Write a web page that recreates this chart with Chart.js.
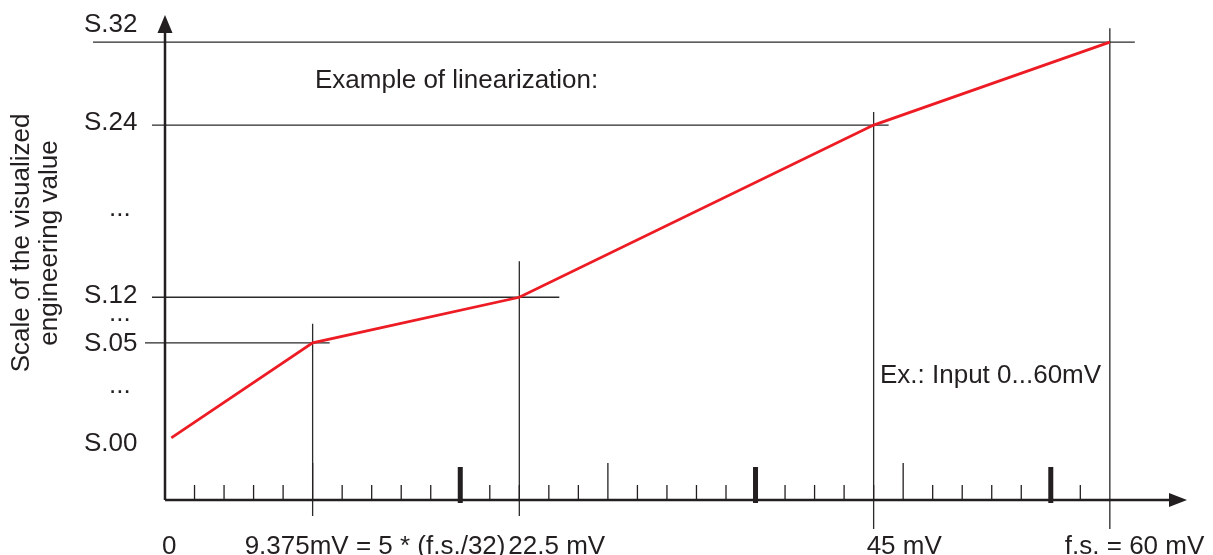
<!DOCTYPE html>
<html>
<head>
<meta charset="utf-8">
<title>Example of linearization</title>
<script src="https://cdn.jsdelivr.net/npm/chart.js@4.4.1/dist/chart.umd.min.js"></script>
<style>
  html, body { margin: 0; padding: 0; background: #fff; }
  #wrap { width: 1213px; height: 555px; position: relative; }
</style>
</head>
<body>
<div id="wrap"><canvas id="linChart"></canvas></div>
<script>
// input in mV, output on the (schematic, not to scale) engineering value axis
const inputMv = [0.4, 9.375, 22.5, 45, 60];
const scaleLevel = [12.8, 32.4, 41.8, 77.3, 94.4];

const xTickValues = [0, 9.375, 22.5, 45, 60];
const xTickLabels = ['0', '9.375mV = 5 * (f.s./32)', '22.5 mV', '45 mV', 'f.s. = 60 mV'];

const yTickLabels = ['S.32', 'S.24', '...', 'S.12', '...', 'S.05', '...', 'S.00'];
const yTickValues = [96.5, 76.3, 58.6, 40.6, 36.9, 30.7, 22.1, 10.1];

const fullScale = 60;
const stepCount = 32;

const ink = '#231f20';
const font = '26px "Liberation Sans", Arial, Helvetica, sans-serif';

// drawing of axes, guide lines and labels
const schematic = {
    id: 'schematic',
    beforeDatasetsDraw(chart) {
        const ctx = chart.ctx;
        const x = chart.scales.x;
        const y = chart.scales.y;
        const area = chart.chartArea;
        const x0 = x.getPixelForValue(0);
        const yb = area.bottom;

        ctx.save();
        ctx.strokeStyle = '#2a2a2a';
        ctx.lineWidth = 1.3;

        // guide lines through each breakpoint
        const hLeft = [null, 145, 152, 152, 93];
        const hRight = [null, 17, 40, 15, 25];
        const vUp = [null, 19, 36, 13, 14];
        const vBottom = [null, 516, 516, 529, 529];
        for (let i = 1; i < inputMv.length; i++) {
            const px = x.getPixelForValue(inputMv[i]);
            const py = y.getPixelForValue(scaleLevel[i]);
            ctx.beginPath();
            ctx.moveTo(hLeft[i], py);
            ctx.lineTo(px + hRight[i], py);
            ctx.moveTo(px, py - vUp[i]);
            ctx.lineTo(px, vBottom[i]);
            ctx.stroke();
        }

        // small ticks every f.s./32
        ctx.strokeStyle = ink;
        ctx.fillStyle = ink;
        for (let k = 1; k < stepCount; k++) {
            const px = x.getPixelForValue(k * fullScale / stepCount);
            if (k % 10 === 0) {
                ctx.fillRect(px - 2.5, yb - 33, 5, 36);
            } else {
                ctx.beginPath();
                ctx.moveTo(px, yb);
                ctx.lineTo(px, k % 5 === 0 ? yb - 37 : yb - 15);
                ctx.stroke();
            }
        }

        // axes with arrows
        ctx.lineWidth = 2.5;
        ctx.beginPath();
        ctx.moveTo(x0, yb);
        ctx.lineTo(x0, area.top + 16);
        ctx.moveTo(x0, yb);
        ctx.lineTo(area.right - 16, yb);
        ctx.stroke();

        ctx.beginPath();
        ctx.moveTo(x0, area.top);
        ctx.lineTo(x0 - 7.5, area.top + 18);
        ctx.lineTo(x0 + 7.5, area.top + 18);
        ctx.closePath();
        ctx.fill();

        ctx.beginPath();
        ctx.moveTo(area.right, yb);
        ctx.lineTo(area.right - 18, yb - 7);
        ctx.lineTo(area.right - 18, yb + 7);
        ctx.closePath();
        ctx.fill();
        ctx.restore();
    },
    afterDraw(chart) {
        const ctx = chart.ctx;
        const x = chart.scales.x;
        const y = chart.scales.y;

        ctx.save();
        ctx.fillStyle = ink;
        ctx.font = font;
        ctx.textBaseline = 'alphabetic';
        ctx.textAlign = 'left';

        // x labels, placed as in the original sketch
        const xShift = [-3, -68, -11, -7, -45];
        xTickValues.forEach((v, i) => {
            ctx.fillText(xTickLabels[i], x.getPixelForValue(v) + xShift[i], 554);
        });

        // y labels
        yTickValues.forEach((v, i) => {
            const lx = yTickLabels[i] === '...' ? 109 : 84;
            ctx.fillText(yTickLabels[i], lx, y.getPixelForValue(v));
        });

        ctx.fillText('Example of linearization:', 315, 88);
        ctx.fillText('Ex.: Input 0...60mV', 880, 383);

        // y title, two lines
        ctx.textAlign = 'center';
        ctx.textBaseline = 'middle';
        [['Scale of the visualized', 22], ['engineering value', 50]].forEach(([t, cx]) => {
            ctx.save();
            ctx.translate(cx, 243);
            ctx.rotate(-Math.PI / 2);
            ctx.fillText(t, 0, 0);
            ctx.restore();
        });
        ctx.restore();
    }
};

const ctx = document.getElementById('linChart').getContext('2d');
const linChart = new Chart(ctx, {
    type: 'line',
    data: {
        datasets: [{
            label: 'Linearization',
            data: inputMv.map((v, i) => ({ x: v, y: scaleLevel[i] })),
            borderColor: '#ed1c24',
            borderWidth: 2.8,
            pointRadius: 0,
            tension: 0,
            clip: false
        }]
    },
    options: {
        responsive: true,
        maintainAspectRatio: false,
        animation: false,
        layout: {
            padding: { left: 165, right: 26, top: 15, bottom: 55 }
        },
        plugins: {
            legend: { display: false },
            tooltip: { enabled: false }
        },
        scales: {
            x: { type: 'linear', min: 0, max: 64.9, display: false },
            y: { type: 'linear', min: 0, max: 100, display: false }
        }
    },
    plugins: [schematic]
});
</script>
</body>
</html>
